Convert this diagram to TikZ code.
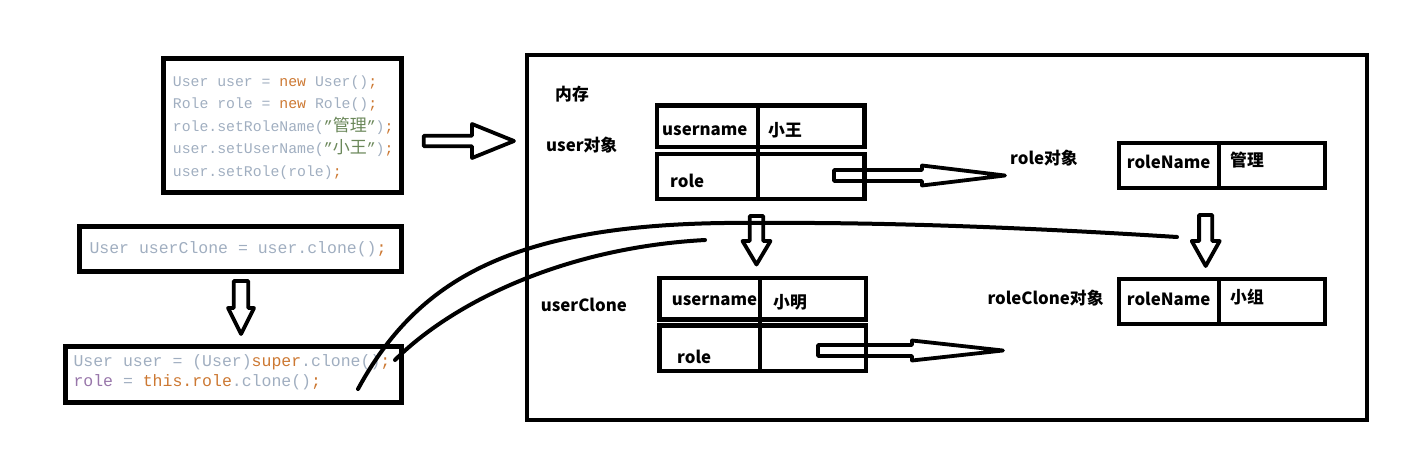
\documentclass[tikz,border=0pt]{standalone}
\usepackage{fontspec}
\newfontfamily\codefont{Liberation Mono}
\newfontfamily\cjkfont{Noto Sans CJK SC}
\definecolor{codegray}{RGB}{160,174,192}
\definecolor{codeorange}{RGB}{204,120,50}
\definecolor{codegreen}{RGB}{106,135,89}
\definecolor{codepurple}{RGB}{152,118,170}
\newcommand{\zh}[1]{{\cjkfont\fontsize{17}{18}\selectfont #1}}
\newcommand{\orng}[1]{\textcolor{codeorange}{#1}}
% hollow block arrow: tail, angle, length, shaft half, head half, head length
\newcommand{\hollowarrow}[6]{%
  \draw[blockarrow, shift={(#1)}, rotate=#2]
    (0,-#4) -- ({#3-#6},-#4) -- ({#3-#6},-#5) -- (#3,0)
    -- ({#3-#6},#5) -- ({#3-#6},#4) -- (0,#4) -- cycle;}

\begin{document}
\begin{tikzpicture}[
    x=1pt, y=-1pt,
    frame/.style={draw, line width=4.3pt},
    blockarrow/.style={draw, line width=3.8pt, line join=round},
    stroke/.style={line width=4pt, line cap=round},
    label/.style={font=\cjkfont\bfseries\fontsize{16.8}{20}\selectfont, anchor=base west, inner sep=0pt},
    code/.style={font=\codefont\fontsize{14.8}{18}\selectfont, text=codegray, anchor=base west, inner sep=0pt},
    bigcode/.style={code, font=\codefont\fontsize{16.5}{18}\selectfont}
]
    \useasboundingbox (0,0) rectangle (1404,452);

    % code boxes
    \draw[frame, line width=5pt] (163.5,58.5) rectangle (401,192.5);
    \node[code] (new1) at (172.7,86) {User user = \orng{new} User()\orng{;}};
    \node[code] (new2) at (172.7,108.5) {Role role = \orng{new} Role()\orng{;}};
    \node[code] (setname) at (172.7,131) {role.setRoleName(\textcolor{codegreen}{”\zh{管理}”})\orng{;}};
    \node[code] (setuser) at (172.7,153.5) {user.setUserName(\textcolor{codegreen}{”\zh{小王}”})\orng{;}};
    \node[code] (setrole) at (172.7,176) {user.setRole(role)\orng{;}};

    \draw[frame, line width=5pt] (79,226.5) rectangle (401.5,271.5);
    \node[bigcode] (callclone) at (89.3,253.5) {User userClone = user.clone()\orng{;}};

    \draw[frame, line width=5pt] (65,346.5) rectangle (401.5,402);
    \node[bigcode] (superclone) at (73.3,366) {User user = (User)\orng{super}.clone()\orng{;}};
    \node[bigcode] (roleclone) at (73.3,386) {\textcolor{codepurple}{role} = \orng{this.role}.clone()\orng{;}};

    % memory
    \draw[frame, line width=4pt] (527,55) rectangle (1367,420);
    \node[label] (mem) at (555,100) {内存};
    \node[label] (userobj) at (546,151) {user对象};
    \node[label] (usercl) at (540.7,311.5) {userClone};
    \node[label] (roleobj) at (1010,164) {role对象};
    \node[label] (rolecl) at (987.3,304) {roleClone对象};

    % user object
    \draw[frame] (657,105.5) rectangle (864.5,147);
    \draw[frame] (657,154) rectangle (864.5,199);
    \draw[frame] (758.3,105.5) -- (758.3,199);
    \node[label] (uname) at (662,135) {username};
    \node[label] (uval) at (768,136) {小王};
    \node[label] (urole) at (670,187.5) {role};

    % userClone object
    \draw[frame] (659.5,278) rectangle (866,319.5);
    \draw[frame] (659.5,325.5) rectangle (866,371);
    \draw[frame] (760.3,278) -- (760.3,371);
    \node[label] (cname) at (671.7,305) {username};
    \node[label] (cval) at (773,308) {小明};
    \node[label] (crole) at (677,363) {role};

    % role objects
    \draw[frame] (1119,143) rectangle (1325,188.3);
    \draw[frame] (1219,143) -- (1219,188.3);
    \node[label] (rname) at (1126.7,168) {roleName};
    \node[label] (rval) at (1230,166) {管理};
    \draw[frame] (1119,279) rectangle (1325,324);
    \draw[frame] (1219,279) -- (1219,324);
    \node[label] (rcname) at (1126.7,305) {roleName};
    \node[label] (rcval) at (1230,303) {小组};

    % block arrows
    \coordinate (toMem) at (423.7,141);
    \coordinate (toClone) at (241,281);
    \coordinate (toRole) at (834,175.5);
    \coordinate (toRole2) at (818,350.5);
    \coordinate (toUserCl) at (756.5,216);
    \coordinate (toRoleCl) at (1205.7,215);
    \hollowarrow{toMem}{0}{90.3}{5.3}{17}{42}
    \hollowarrow{toClone}{-90}{53}{7.2}{13}{26}
    \hollowarrow{toRole}{0}{171}{5.5}{10}{83}
    \hollowarrow{toRole2}{0}{185}{5.5}{10}{91}
    \hollowarrow{toUserCl}{-90}{48.5}{6.8}{14}{23.5}
    \hollowarrow{toRoleCl}{-90}{51}{6.6}{14}{25}

    % clone links
    \coordinate (fromRole) at (358,389);
    \coordinate (endRole) at (1177,237);
    \coordinate (fromSuper) at (395,360);
    \coordinate (endSuper) at (705,240);
    \draw[stroke] (fromRole) .. controls (420,275) and (520,220) .. (760,223)
        .. controls (900,222) and (1050,229) .. (endRole);
    \draw[stroke] (fromSuper) .. controls (450,305) and (560,248) .. (endSuper);
\end{tikzpicture}
\end{document}
